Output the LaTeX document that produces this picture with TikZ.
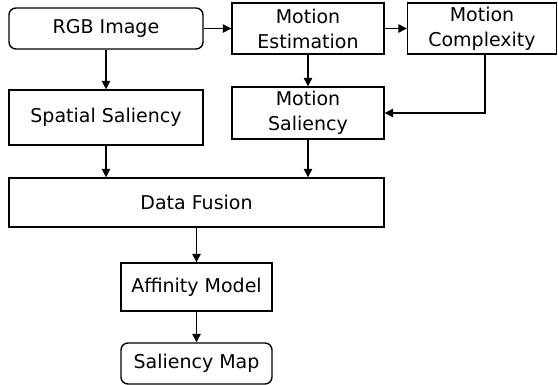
\documentclass[tikz,border=0pt]{standalone}
\usepackage{fontspec}
\setmainfont{DejaVu Sans}
\usetikzlibrary{arrows.meta}
\begin{document}
\begin{tikzpicture}[x=1pt,y=-1pt,
  box/.style={draw,line width=1.4pt,inner sep=0pt,font=\fontsize{19}{25}\selectfont,align=center},
  rbox/.style={box,rounded corners=7pt},
  arr/.style={line width=1.4pt,-{Triangle[length=8.5pt,width=8.5pt]}}]
\useasboundingbox[fill=white] (0,0) rectangle (558,385);
\node[rbox,minimum width=194pt,minimum height=41pt] (rgb) at (106,28.5) {RGB Image};
\node[box,minimum width=152pt,minimum height=51pt] (me) at (308,28.5) {Motion\\Estimation};
\node[box,minimum width=149pt,minimum height=51pt] (mc) at (482,28.5) {Motion\\Complexity};
\node[box,minimum width=194pt,minimum height=55pt] (ss) at (106,117.5) {Spatial Saliency};
\node[box,minimum width=152pt,minimum height=52pt] (ms) at (308,113) {Motion\\Saliency};
\node[box,minimum width=375pt,minimum height=49pt] (df) at (196.5,202.5) {Data Fusion};
\node[box,minimum width=151pt,minimum height=48pt] (am) at (196.5,287) {Affinity Model};
\node[rbox,minimum width=151pt,minimum height=41pt] (sm) at (196.5,363.5) {Saliency Map};
\draw[arr] (rgb.east) -- (me.west |- rgb.east);
\draw[arr] (me.east) -- (mc.west);
\draw[arr] (rgb.south) -- (ss.north);
\draw[arr] (me.south) -- (ms.north);
\draw[arr] (mc.south -| 485,0) |- (ms.east |- 0,113);
\draw[arr] (ss.south) -- (ss.south |- df.north);
\draw[arr] (ms.south) -- (ms.south |- df.north);
\draw[arr] (df.south -| am.north) -- (am.north);
\draw[arr] (am.south) -- (sm.north);
\end{tikzpicture}
\end{document}
